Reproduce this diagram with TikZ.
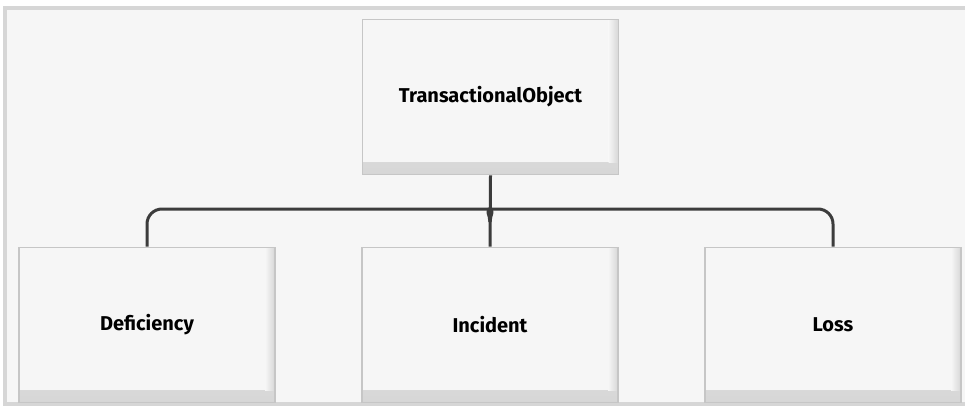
\documentclass[tikz,border=0pt]{standalone}
\usepackage{fontspec}
\setmainfont{Fira Sans}
\definecolor{boxfill}{HTML}{F6F6F6}
\definecolor{boxline}{HTML}{C6C6C6}
\definecolor{shadowc}{HTML}{D6D6D6}
\definecolor{framec}{HTML}{D6D6D6}
\definecolor{connc}{HTML}{3C3C3C}
\begin{document}
\begin{tikzpicture}[x=1pt,y=-1pt,
  classbox/.style={draw=boxline, line width=1.6pt, fill=boxfill,
    minimum width=256pt, minimum height=155pt, inner sep=0pt,
    font=\bfseries\fontsize{20}{24}\selectfont,
    path picture={
      \shade[top color=boxfill, bottom color=shadowc]
        ([yshift=12pt]path picture bounding box.south west) rectangle (path picture bounding box.south east);
      \shade[left color=boxfill, right color=shadowc]
        ([xshift=-10pt]path picture bounding box.north east) rectangle ([yshift=12pt]path picture bounding box.south east);
    }},
  conn/.style={draw=connc, line width=3pt}]
\useasboundingbox (0,0) rectangle (965,412);
\fill[white] (0,0) rectangle (965,412);
\draw[framec, line width=3.5pt, fill=boxfill] (5,8) rectangle (972,404);
\node[classbox] (top) at (490.5,97) {TransactionalObject};
\node[classbox] (def) at (147,325) {Deficiency};
\node[classbox] (inc) at (490,325) {Incident};
\node[classbox] (loss) at (833,325) {Loss};
\coordinate (jl) at (477,209);
\coordinate (jr) at (503,209);
\draw[conn] (top.south) -- (inc.north);
\draw[conn] (def.north) [rounded corners=15pt] |- (jl) [sharp corners] arc[start angle=90, end angle=0, radius=13pt];
\draw[conn] (loss.north) [rounded corners=15pt] |- (jr) [sharp corners] arc[start angle=90, end angle=180, radius=13pt];
\end{tikzpicture}
\end{document}
